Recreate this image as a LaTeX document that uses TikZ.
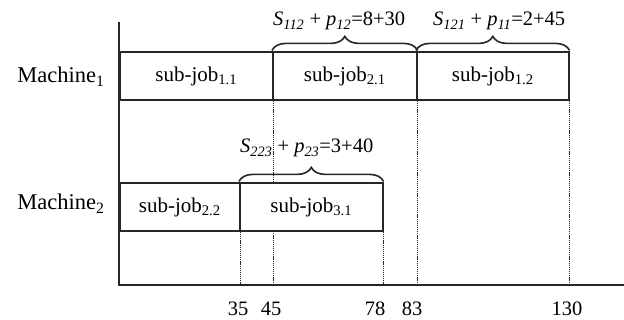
\documentclass[tikz,border=0pt]{standalone}
\usepackage{fontspec}
\setmainfont{Liberation Serif}
\usetikzlibrary{decorations.pathreplacing}
\pgfdeclarelayer{bg}
\pgfsetlayers{bg,main}
\begin{document}
\begin{tikzpicture}[x=1pt,y=1pt,
  ax/.style={line width=1.6pt, draw=black!85},
  jobbox/.style={draw=black!85, line width=1.6pt, fill=white, inner sep=0pt, anchor=south west, minimum height=48pt, font=\fontsize{21}{24}\selectfont},
  dots/.style={line width=1.3pt, dash pattern=on 1.2pt off 0.9pt, draw=black!85},
  lbl/.style={font=\fontsize{20.5}{24}\selectfont, inner sep=0pt},
  mlbl/.style={font=\fontsize{22.5}{26}\selectfont, inner sep=0pt},
  brc/.style={decorate, decoration={brace, amplitude=14pt, raise=1pt}, line width=1.6pt, draw=black!85},
]
\useasboundingbox (0,0) rectangle (624,320);
\coordinate (o) at (119,35);
\coordinate (ytop) at (119,298);
\coordinate (xend) at (624,35);
\draw[ax] (ytop) -- (o) -- (xend);

\node[jobbox, minimum width=153pt] (j11) at (119,219) {sub-job\textsubscript{1.1}};
\node[jobbox, minimum width=144pt] (j21) at (272,219) {sub-job\textsubscript{2.1}};
\node[jobbox, minimum width=152pt] (j12) at (416,219) {sub-job\textsubscript{1.2}};
\node[jobbox, minimum width=120pt] (j22) at (119,88) {sub-job\textsubscript{2.2}};
\node[jobbox, minimum width=143pt] (j31) at (239,88) {sub-job\textsubscript{3.1}};

\begin{pgfonlayer}{bg}
\draw[dots] (j11.south east) -- (j11.south east |- o);
\draw[dots] (j21.south east) -- (j21.south east |- o);
\draw[dots] (j12.south east) -- (j12.south east |- o);
\draw[dots] (j22.south east) -- (j22.south east |- o);
\draw[dots] (j31.south east) -- (j31.south east |- o);
\end{pgfonlayer}

\draw[brc] (j21.north west) -- (j21.north east);
\draw[brc] (j12.north west) -- (j12.north east);
\draw[brc] (j31.north west) -- (j31.north east);

\node[lbl, anchor=base west] (t1) at (273,294) {\textit{S}\textsubscript{\textit{112}} + \textit{p}\textsubscript{\textit{12}}=8+30};
\node[lbl, anchor=base west] (t2) at (433,294) {\textit{S}\textsubscript{\textit{121}} + \textit{p}\textsubscript{\textit{11}}=2+45};
\node[lbl, anchor=base west] (t3) at (240,167) {\textit{S}\textsubscript{\textit{223}} + \textit{p}\textsubscript{\textit{23}}=3+40};

\node[mlbl, anchor=base] (m1) at (61,237) {Machine\textsubscript{1}};
\node[mlbl, anchor=base] (m2) at (61,110) {Machine\textsubscript{2}};

\node[lbl, anchor=base] (x35) at (238,4) {35};
\node[lbl, anchor=base] (x45) at (271,4) {45};
\node[lbl, anchor=base] (x78) at (375,4) {78};
\node[lbl, anchor=base] (x83) at (412,4) {83};
\node[lbl, anchor=base] (x130) at (567,4) {130};
\end{tikzpicture}
\end{document}
